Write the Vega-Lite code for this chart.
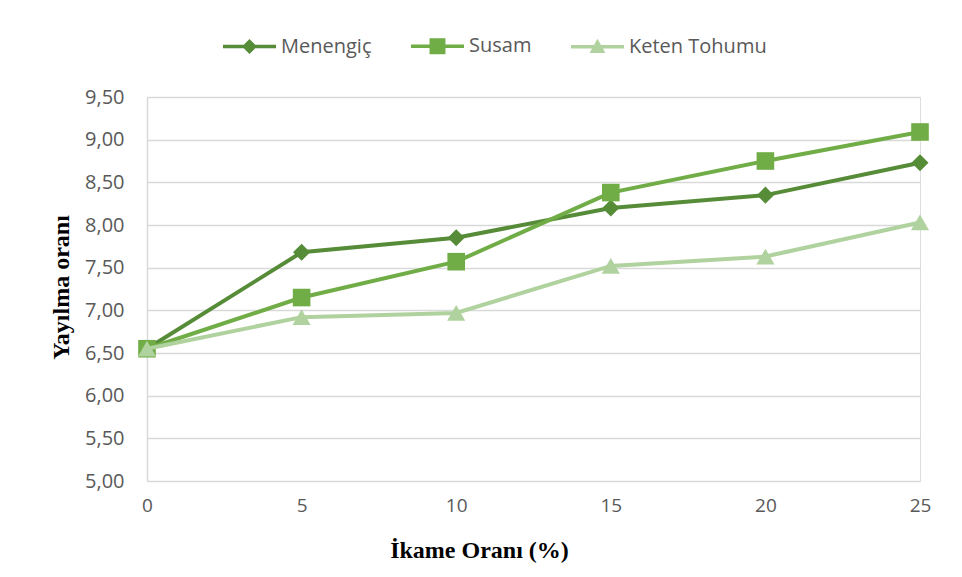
{
  "$schema": "https://vega.github.io/schema/vega-lite/v6.json",
  "autosize": {"type": "none"},
  "width": 773,
  "height": 384,
  "padding": {"left": 147, "top": 97, "right": 42, "bottom": 96},
  "background": "white",
  "data": {
    "values": [
      {"x": 0, "y": 6.55, "series": "Menengiç"},
      {"x": 5, "y": 7.68, "series": "Menengiç"},
      {"x": 10, "y": 7.85, "series": "Menengiç"},
      {"x": 15, "y": 8.2, "series": "Menengiç"},
      {"x": 20, "y": 8.35, "series": "Menengiç"},
      {"x": 25, "y": 8.73, "series": "Menengiç"},
      {"x": 0, "y": 6.55, "series": "Susam"},
      {"x": 5, "y": 7.15, "series": "Susam"},
      {"x": 10, "y": 7.57, "series": "Susam"},
      {"x": 15, "y": 8.38, "series": "Susam"},
      {"x": 20, "y": 8.75, "series": "Susam"},
      {"x": 25, "y": 9.09, "series": "Susam"},
      {"x": 0, "y": 6.55, "series": "Keten Tohumu"},
      {"x": 5, "y": 6.92, "series": "Keten Tohumu"},
      {"x": 10, "y": 6.97, "series": "Keten Tohumu"},
      {"x": 15, "y": 7.52, "series": "Keten Tohumu"},
      {"x": 20, "y": 7.63, "series": "Keten Tohumu"},
      {"x": 25, "y": 8.03, "series": "Keten Tohumu"}
    ]
  },
  "encoding": {
    "x": {
      "field": "x",
      "type": "quantitative",
      "scale": {"domain": [0, 25], "nice": false, "zero": false},
      "axis": {
        "values": [0, 5, 10, 15, 20, 25],
        "grid": false,
        "domain": false,
        "ticks": false,
        "labelFlush": false,
        "labelFont": "Open Sans",
        "labelFontSize": 19,
        "labelColor": "#595959",
        "labelPadding": 15,
        "title": "İkame Oranı (%)",
        "titleFont": "Liberation Serif",
        "titleFontSize": 24,
        "titleFontWeight": "bold",
        "titleColor": "#000000",
        "titleAnchor": "start",
        "titleAlign": "center",
        "titleBaseline": "alphabetic",
        "titleX": 332,
        "titleY": 76
      }
    },
    "y": {
      "field": "y",
      "type": "quantitative",
      "scale": {"domain": [5, 9.5], "nice": false, "zero": false},
      "axis": {
        "values": [5, 5.5, 6, 6.5, 7, 7.5, 8, 8.5, 9, 9.5],
        "labelExpr": "replace(format(datum.value, '.2f'), '.', ',')",
        "grid": true,
        "gridColor": "#d9d9d9",
        "gridWidth": 1.5,
        "domain": true,
        "domainColor": "#d9d9d9",
        "domainWidth": 1.5,
        "ticks": false,
        "labelFont": "Open Sans",
        "labelFontSize": 20,
        "labelColor": "#595959",
        "labelPadding": 23,
        "title": "Yayılma oranı",
        "titleFont": "Liberation Serif",
        "titleFontSize": 24,
        "titleFontWeight": "bold",
        "titleColor": "#000000",
        "titleAnchor": "start",
        "titleAlign": "center",
        "titleBaseline": "middle",
        "titleAngle": -90,
        "titleX": -86,
        "titleY": 190
      }
    }
  },
  "layer": [
    {
      "transform": [{"filter": "datum.series === 'Menengiç'"}],
      "mark": {"type": "line", "strokeWidth": 4, "color": "#568B38", "point": {"shape": "diamond", "size": 290, "filled": true, "opacity": 1, "color": "#568B38"}},
      "encoding": {}
    },
    {
      "transform": [{"filter": "datum.series === 'Susam'"}],
      "mark": {"type": "line", "strokeWidth": 4, "color": "#70AD47", "point": {"shape": "square", "size": 310, "filled": true, "opacity": 1, "color": "#70AD47"}},
      "encoding": {}
    },
    {
      "transform": [{"filter": "datum.series === 'Keten Tohumu'"}],
      "mark": {"type": "line", "strokeWidth": 4, "color": "#B0D29E", "point": {"shape": "triangle-up", "size": 330, "filled": true, "opacity": 1, "color": "#B0D29E"}},
      "encoding": {}
    },
    {
      "mark": {"type": "point", "filled": true, "opacity": 0},
      "encoding": {
        "color": {
          "field": "series",
          "type": "nominal",
          "scale": {"domain": ["Menengiç", "Susam", "Keten Tohumu"], "range": ["#568B38", "#70AD47", "#B0D29E"]},
          "legend": {
            "title": null,
            "orient": "none",
            "direction": "horizontal",
            "legendX": 75,
            "legendY": -78.5,
            "symbolSize": 2809,
            "symbolOpacity": 1,
            "labelFont": "Open Sans",
            "labelFontSize": 20,
            "labelColor": "#595959",
            "labelOffset": 4,
            "columnPadding": 36,
            "padding": 0
          }
        },
        "shape": {
          "field": "series",
          "type": "nominal",
          "scale": {
            "domain": ["Menengiç", "Susam", "Keten Tohumu"],
            "range": [
              "M-1,-0.066H1V0.066H-1Z M0,-0.283L0.283,0L0,0.283L-0.283,0Z",
              "M-1,-0.066H1V0.066H-1Z M-0.3,-0.3H0.3V0.3H-0.3Z",
              "M-1,-0.066H1V0.066H-1Z M0,-0.3L0.3,0.24L-0.3,0.24Z"
            ]
          },
          "legend": {
            "title": null,
            "orient": "none",
            "direction": "horizontal",
            "legendX": 75,
            "legendY": -78.5,
            "symbolSize": 2809,
            "symbolOpacity": 1,
            "labelFont": "Open Sans",
            "labelFontSize": 20,
            "labelColor": "#595959",
            "labelOffset": 4,
            "columnPadding": 36,
            "padding": 0
          }
        }
      }
    }
  ]
}
